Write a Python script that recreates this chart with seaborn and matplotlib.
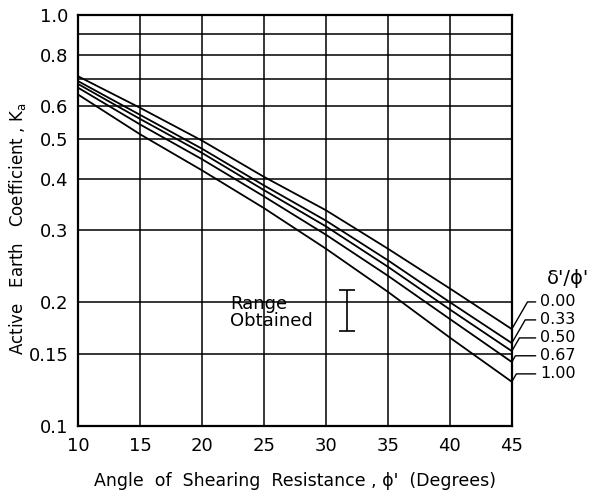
import numpy as np
import pandas as pd
import matplotlib
matplotlib.use("Agg")
import matplotlib.pyplot as plt
from matplotlib.ticker import NullLocator
import seaborn as sns

# values
phi = [10, 15, 20, 25, 30, 35, 40, 45]
ratios = ["0.00", "0.33", "0.50", "0.67", "1.00"]
ka_000 = [0.710, 0.595, 0.495, 0.404, 0.335, 0.270, 0.216, 0.172]
ka_033 = [0.691, 0.572, 0.473, 0.385, 0.316, 0.253, 0.200, 0.159]
ka_050 = [0.680, 0.559, 0.462, 0.375, 0.306, 0.244, 0.192, 0.152]
ka_067 = [0.666, 0.542, 0.446, 0.362, 0.292, 0.232, 0.182, 0.143]
ka_100 = [0.641, 0.513, 0.419, 0.339, 0.270, 0.212, 0.164, 0.128]

range_phi = 31.7
range_lo = 0.170
range_hi = 0.214

x_ticks = [10, 15, 20, 25, 30, 35, 40, 45]
y_ticks = [0.1, 0.15, 0.2, 0.3, 0.4, 0.5, 0.6, 0.7, 0.8, 0.9, 1.0]
y_labels = ["0.1", "0.15", "0.2", "0.3", "0.4", "0.5", "0.6", "", "0.8", "", "1.0"]

curves = [ka_000, ka_033, ka_050, ka_067, ka_100]
df = pd.DataFrame({
    "phi": phi * len(ratios),
    "ka": sum(curves, []),
    "ratio": np.repeat(ratios, len(phi)),
})

sns.set_style("white")
plt.rcParams["font.family"] = ["DejaVu Sans"]
plt.rcParams["text.color"] = "black"
plt.rcParams["axes.labelcolor"] = "black"

fig = plt.figure(figsize=(5.91, 4.90), dpi=100)
ax = fig.add_axes([0.132, 0.131, 0.734, 0.838])

sns.lineplot(data=df, x="phi", y="ka", hue="ratio", palette=["black"] * 5,
             legend=False, linewidth=1.3, ax=ax)

ax.set_yscale("log")
ax.set_xlim(10, 45)
ax.set_ylim(0.1, 1.0)
ax.set_xticks(x_ticks)
ax.set_yticks(y_ticks)
ax.set_yticklabels(y_labels)
ax.yaxis.set_minor_locator(NullLocator())
ax.grid(True, which="major", color="black", linewidth=1.1)
ax.tick_params(length=0, labelsize=13, colors="black")
ax.tick_params(axis="y", pad=7)
ax.tick_params(axis="x", pad=8)
for s in ax.spines.values():
    s.set_color("black")
    s.set_linewidth(1.6)

ax.set_xlabel("Angle  of  Shearing  Resistance , \u03d5'  (Degrees)", fontsize=12.5, labelpad=12)
ax.set_ylabel("Active   Earth   Coefficient , K$_\\mathregular{a}$", fontsize=12, labelpad=8)
ax.yaxis.set_label_coords(-0.115, 0.48)

# range obtained
ax.errorbar([range_phi], [range_hi], yerr=[[range_hi - range_lo], [0]], fmt="none",
            ecolor="black", elinewidth=1.2, capsize=6, capthick=1.2)
ax.text(22.3, 0.189, "Range\nObtained", fontsize=13, ha="left", va="center",
        linespacing=0.95)

# right-side labels
label_y = [0.2003, 0.1811, 0.1637, 0.1481, 0.1338]
for r, ka, ly in zip(ratios, curves, label_y):
    ax.annotate(r, xy=(45, ka[-1]), xytext=(47.3, ly), fontsize=11.5, ha="left", va="center",
                annotation_clip=False,
                arrowprops=dict(arrowstyle="-", color="black", lw=1.0, relpos=(0, 0.5),
                                shrinkA=1, shrinkB=0,
                                connectionstyle="angle,angleA=0,angleB=60,rad=0"))
ax.text(49.5, 0.229, "\u03b4'/\u03d5'", fontsize=14, ha="center", va="center")

fig.savefig("out.png", dpi=100)
